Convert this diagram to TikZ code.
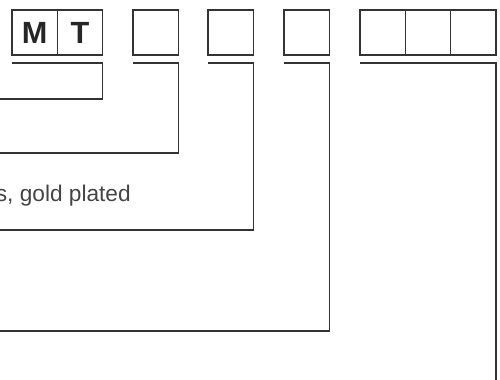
\documentclass[tikz,border=0pt]{standalone}
\usepackage{fontspec}
\setmainfont{Liberation Sans}
\definecolor{ln}{HTML}{333333}
\definecolor{tx}{HTML}{444444}
\begin{document}
\begin{tikzpicture}[x=0.75pt,y=-0.75pt,
  cell/.style={draw=ln,line width=0.9pt,minimum width=34pt,minimum height=33.75pt,inner sep=0pt,outer sep=0pt,anchor=north west,text=black!85,font=\fontsize{23}{23}\selectfont\bfseries},
  lead/.style={draw=ln,line width=0.9pt},
  lbl/.style={text=tx,font=\fontsize{17}{20}\selectfont,inner sep=0pt}]
\useasboundingbox (0,0) rectangle (500,379);
\node[cell] (m) at (12,10) {M};
\node[cell] (t) at (m.north east) {T};
\node[cell] (b3) at (133,10) {};
\node[cell] (b4) at (208,10) {};
\node[cell] (b5) at (284,10) {};
\node[cell] (b6) at (360,10) {};
\node[cell] (b7) at (b6.north east) {};
\node[cell] (b8) at (b7.north east) {};
% bracket end points
\coordinate (e1) at (-5,99);
\coordinate (e2) at (-5,153);
\coordinate (e3) at (-5,230);
\coordinate (e4) at (-5,331);
\coordinate (e5) at (0,385);
\draw[lead] ([yshift=-6pt]m.south west) -- ([yshift=-6pt]t.south east) |- (e1);
\draw[lead] ([yshift=-6pt]b3.south west) -- ([yshift=-6pt]b3.south east) |- (e2);
\draw[lead] ([yshift=-6pt]b4.south west) -- ([yshift=-6pt]b4.south east) |- (e3);
\draw[lead] ([yshift=-6pt]b5.south west) -- ([yshift=-6pt]b5.south east) |- (e4);
\draw[lead] ([yshift=-6pt]b6.south west) -- ([yshift=-6pt]b8.south east) -- (b8.south east |- e5);
\node[lbl,anchor=base east] (txt) at (131,201) {s, gold plated};
\end{tikzpicture}
\end{document}
